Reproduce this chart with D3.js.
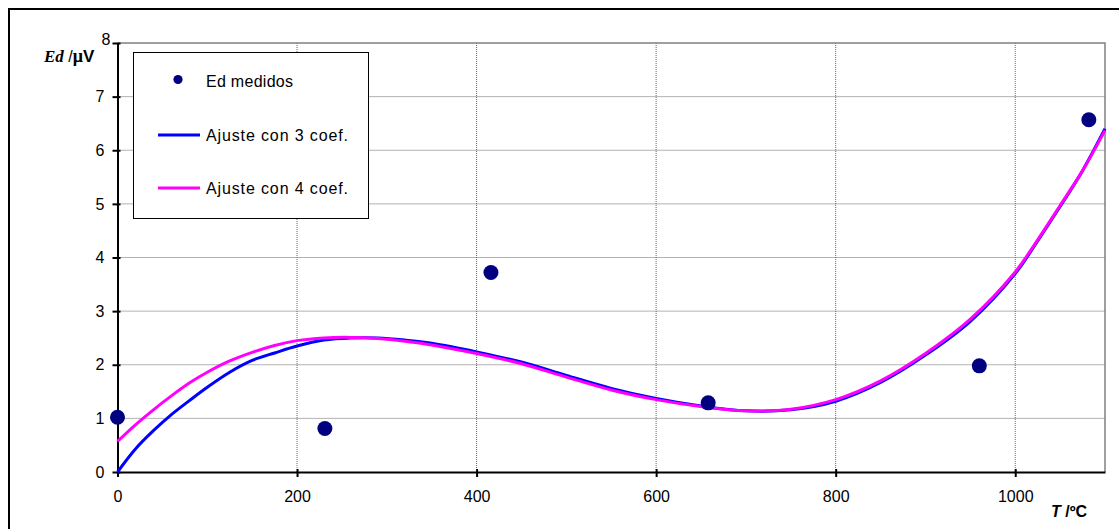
<!DOCTYPE html>
<html>
<head>
<meta charset="utf-8">
<script src="https://cdn.jsdelivr.net/npm/d3@7"></script>
<style>
  body { margin: 0; background: #fff; }
  svg { display: block; font-family: "Liberation Sans", Arial, sans-serif; }
  .legend { font-size: 16px; fill: #000; }
</style>
</head>
<body>
<div id="chart"></div>
<script>
// measured points
const tMeasured = [0, 231, 416, 658, 960, 1082];
const edMeasured = [1.02, 0.81, 3.72, 1.29, 1.98, 6.57];

// fitted curves
const tFit = [0, 20, 40, 60, 80, 100, 125, 150, 175, 200, 230, 260, 290, 320, 350, 400,
              450, 500, 550, 600, 650, 700, 750, 800, 850, 900, 950, 1000, 1025, 1050, 1075, 1100];
const fit3 = [0, 0.43, 0.77, 1.07, 1.33, 1.58, 1.86, 2.08, 2.22, 2.35, 2.46, 2.50, 2.50, 2.46, 2.40, 2.24,
              2.05, 1.80, 1.56, 1.37, 1.23, 1.14, 1.16, 1.32, 1.67, 2.18, 2.81, 3.70, 4.31, 4.95, 5.62, 6.40];
const fit4 = [0.57, 0.88, 1.16, 1.42, 1.66, 1.86, 2.07, 2.23, 2.36, 2.45, 2.50, 2.51, 2.49, 2.44, 2.37, 2.21,
              2.02, 1.77, 1.53, 1.35, 1.22, 1.14, 1.17, 1.35, 1.70, 2.21, 2.85, 3.73, 4.33, 4.97, 5.62, 6.37];

const xTicks = [0, 200, 400, 600, 800, 1000];
const yTicks = [0, 1, 2, 3, 4, 5, 6, 7, 8];
const seriesNames = ["Ed medidos", "Ajuste con 3 coef.", "Ajuste con 4 coef."];

const W = 1119, H = 529;
const margin = {top: 43, right: 14, bottom: 57, left: 117.5};

const svg = d3.select("#chart").append("svg")
    .attr("width", W)
    .attr("height", H);

const x = d3.scaleLinear().domain([0, 1100]).range([margin.left, W - margin.right]);
const y = d3.scaleLinear().domain([0, 8]).range([H - margin.bottom, margin.top]);

// outer frame
svg.append("rect")
    .attr("x", 9).attr("y", 9)
    .attr("width", W + 20).attr("height", H + 20)
    .attr("fill", "none")
    .attr("stroke", "#000")
    .attr("stroke-width", 2);

// grid lines
svg.append("g")
    .selectAll("line")
    .data(yTicks.filter(d => d > 0 && d < 8))
    .join("line")
    .attr("x1", x(0)).attr("x2", x(1100))
    .attr("y1", d => y(d)).attr("y2", d => y(d))
    .attr("stroke", "#666")
    .attr("stroke-dasharray", "1,1");

svg.append("g")
    .selectAll("line")
    .data(xTicks.filter(d => d > 0))
    .join("line")
    .attr("x1", d => x(d)).attr("x2", d => x(d))
    .attr("y1", y(0)).attr("y2", y(8))
    .attr("stroke", "#666")
    .attr("stroke-dasharray", "1,1");

// plot area border (top + right)
svg.append("path")
    .attr("d", `M${x(0)},${y(8)}H${x(1100)}V${y(0)}`)
    .attr("fill", "none")
    .attr("stroke", "#808080")
    .attr("stroke-width", 1.5);

// axes
const xAxis = svg.append("g")
    .attr("transform", `translate(0, ${y(0)})`)
    .call(d3.axisBottom(x).tickValues(xTicks).tickFormat(d3.format("d"))
        .tickSize(5).tickPadding(14).tickSizeOuter(0));
const yAxis = svg.append("g")
    .attr("transform", `translate(${x(0)}, 0)`)
    .call(d3.axisLeft(y).tickValues(yTicks).tickSize(5).tickPadding(8).tickSizeOuter(0));

[xAxis, yAxis].forEach(a => {
    a.attr("font-size", 16).attr("font-family", "'Liberation Sans', Arial, sans-serif");
    a.select(".domain").attr("stroke", "#000").attr("stroke-width", 2);
    a.selectAll(".tick line").attr("stroke", "#000").attr("stroke-width", 2);
    a.selectAll(".tick text").attr("fill", "#000");
});
// ticks cross the axis a little
xAxis.selectAll(".tick line").attr("y1", -3);
yAxis.selectAll(".tick line").attr("x1", 3);
yAxis.selectAll(".tick").filter(d => d === 8).select("text").attr("dy", "0.1em").attr("x", -7);

// curves
const fitData = tFit.map((t, i) => ({t: t, f3: fit3[i], f4: fit4[i]}));
const line3 = d3.line().x(d => x(d.t)).y(d => y(d.f3)).curve(d3.curveCatmullRom);
const line4 = d3.line().x(d => x(d.t)).y(d => y(d.f4)).curve(d3.curveCatmullRom);

svg.append("path")
    .datum(fitData)
    .attr("d", line3)
    .attr("fill", "none")
    .attr("stroke", "#0000ff")
    .attr("stroke-width", 3);

svg.append("path")
    .datum(fitData)
    .attr("d", line4)
    .attr("fill", "none")
    .attr("stroke", "#ff00ff")
    .attr("stroke-width", 3);

// measured points
svg.append("g")
    .selectAll("circle")
    .data(tMeasured.map((t, i) => ({t: t, v: edMeasured[i]})))
    .join("circle")
    .attr("cx", d => x(d.t))
    .attr("cy", d => y(d.v))
    .attr("r", 7.5)
    .attr("fill", "#000080");

// axis titles
const yTitle = svg.append("text")
    .attr("x", 44)
    .attr("y", 62);
yTitle.append("tspan")
    .attr("font-family", "'Liberation Serif', 'Times New Roman', serif")
    .attr("font-weight", "bold")
    .attr("font-style", "italic")
    .attr("font-size", 17)
    .text("Ed");
yTitle.append("tspan")
    .attr("font-size", 16)
    .text(" /");
yTitle.append("tspan")
    .attr("font-family", "'Liberation Serif', 'Times New Roman', serif")
    .attr("font-size", 18)
    .attr("font-weight", "bold")
    .text("μ");
yTitle.append("tspan")
    .attr("font-size", 17)
    .attr("font-weight", "bold")
    .text("V");

const xTitle = svg.append("text")
    .attr("x", 1051)
    .attr("y", 517)
    .attr("font-size", 16)
    .attr("font-weight", "bold");
xTitle.append("tspan")
    .attr("font-style", "italic")
    .text("T");
xTitle.append("tspan")
    .text(" /ºC");

// legend
const lg = svg.append("g");
lg.append("rect")
    .attr("x", 133.5).attr("y", 52.5)
    .attr("width", 235).attr("height", 166)
    .attr("fill", "#fff")
    .attr("stroke", "#000")
    .attr("stroke-width", 1);

lg.append("circle")
    .attr("cx", 178).attr("cy", 79.5)
    .attr("r", 4.6)
    .attr("fill", "#000080");

const legendColors = ["#0000ff", "#ff00ff"];
const legendY = [81, 135, 188];

lg.selectAll("line")
    .data(legendColors)
    .join("line")
    .attr("x1", 158).attr("x2", 200)
    .attr("y1", (d, i) => legendY[i + 1]).attr("y2", (d, i) => legendY[i + 1])
    .attr("stroke", d => d)
    .attr("stroke-width", 3);

lg.selectAll("text")
    .data(seriesNames)
    .join("text")
    .attr("class", "legend")
    .attr("x", 206)
    .attr("y", (d, i) => legendY[i])
    .attr("dy", "0.36em")
    .attr("textLength", (d, i) => i === 0 ? 87 : 142)
    .text(d => d);
</script>
</body>
</html>
